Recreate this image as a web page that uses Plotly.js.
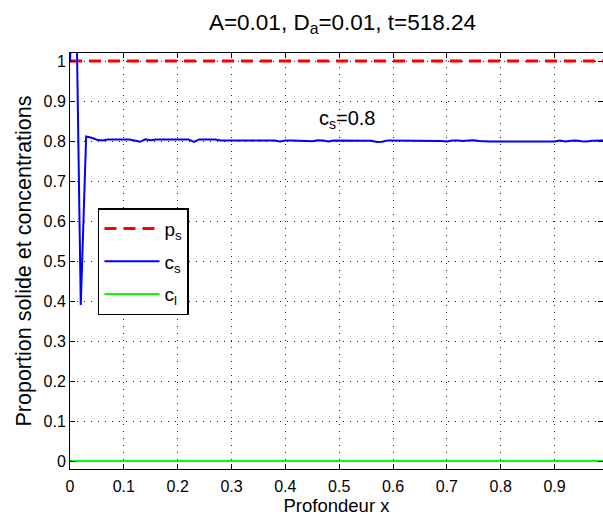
<!DOCTYPE html>
<html>
<head>
<meta charset="utf-8">
<script src="https://cdn.plot.ly/plotly-3.0.1.min.js"></script>
<style>html,body{margin:0;padding:0;background:#fff;}#chart{width:603px;height:516px;}</style>
</head>
<body>
<div id="chart"></div>
<script>
// x grid: 100 points, 0 to 0.99
const depthX = [
  0.00,0.01,0.02,0.03,0.04,0.05,0.06,0.07,0.08,0.09,
  0.10,0.11,0.12,0.13,0.14,0.15,0.16,0.17,0.18,0.19,
  0.20,0.21,0.22,0.23,0.24,0.25,0.26,0.27,0.28,0.29,
  0.30,0.31,0.32,0.33,0.34,0.35,0.36,0.37,0.38,0.39,
  0.40,0.41,0.42,0.43,0.44,0.45,0.46,0.47,0.48,0.49,
  0.50,0.51,0.52,0.53,0.54,0.55,0.56,0.57,0.58,0.59,
  0.60,0.61,0.62,0.63,0.64,0.65,0.66,0.67,0.68,0.69,
  0.70,0.71,0.72,0.73,0.74,0.75,0.76,0.77,0.78,0.79,
  0.80,0.81,0.82,0.83,0.84,0.85,0.86,0.87,0.88,0.89,
  0.90,0.91,0.92,0.93,0.94,0.95,0.96,0.97,0.98,0.99
];
const psValues = [
  1,1,1,1,1,1,1,1,1,1, 1,1,1,1,1,1,1,1,1,1,
  1,1,1,1,1,1,1,1,1,1, 1,1,1,1,1,1,1,1,1,1,
  1,1,1,1,1,1,1,1,1,1, 1,1,1,1,1,1,1,1,1,1,
  1,1,1,1,1,1,1,1,1,1, 1,1,1,1,1,1,1,1,1,1,
  1,1,1,1,1,1,1,1,1,1, 1,1,1,1,1,1,1,1,1,1
];
const csValues = [
  1.0, 1.3, 0.39, 0.811, 0.808, 0.803, 0.801, 0.804, 0.804, 0.804,
  0.804, 0.804, 0.801, 0.798, 0.804, 0.802, 0.804, 0.804, 0.804, 0.8035,
  0.803, 0.8035, 0.804, 0.798, 0.804, 0.804, 0.804, 0.8035, 0.801, 0.801,
  0.801, 0.801, 0.801, 0.801, 0.8015, 0.8015, 0.8015, 0.8015, 0.8015, 0.799,
  0.8015, 0.8015, 0.8015, 0.8015, 0.800, 0.7995, 0.802, 0.801, 0.799, 0.8015,
  0.8015, 0.8015, 0.8015, 0.8015, 0.8015, 0.8015, 0.8005, 0.7975, 0.798, 0.8015,
  0.8015, 0.8015, 0.8015, 0.8015, 0.8015, 0.8015, 0.8015, 0.8015, 0.801, 0.800,
  0.7985, 0.8015, 0.801, 0.800, 0.801, 0.802, 0.800, 0.7985, 0.7985, 0.7985,
  0.7985, 0.7985, 0.7985, 0.7985, 0.7985, 0.7985, 0.7985, 0.7985, 0.7985, 0.7985,
  0.799, 0.801, 0.799, 0.8005, 0.801, 0.7995, 0.7985, 0.8005, 0.801, 0.801
];
const clValues = [
  0,0,0,0,0,0,0,0,0,0, 0,0,0,0,0,0,0,0,0,0,
  0,0,0,0,0,0,0,0,0,0, 0,0,0,0,0,0,0,0,0,0,
  0,0,0,0,0,0,0,0,0,0, 0,0,0,0,0,0,0,0,0,0,
  0,0,0,0,0,0,0,0,0,0, 0,0,0,0,0,0,0,0,0,0,
  0,0,0,0,0,0,0,0,0,0, 0,0,0,0,0,0,0,0,0,0
];
const seriesNames = ['p<sub>s</sub>', 'c<sub>s</sub>', 'c<sub>l</sub>'];
const xTickVals = [0,0.1,0.2,0.3,0.4,0.5,0.6,0.7,0.8,0.9];
const xTickText = ['0','0.1','0.2','0.3','0.4','0.5','0.6','0.7','0.8','0.9'];
const yTickVals = [0,0.1,0.2,0.3,0.4,0.5,0.6,0.7,0.8,0.9,1];
const yTickText = ['0','0.1','0.2','0.3','0.4','0.5','0.6','0.7','0.8','0.9','1'];
const titleText = 'A=0.01, D<sub>a</sub>=0.01, t=518.24';
const annoText = 'c<sub>s</sub>=0.8';
const annoX = 0.515, annoY = 0.855;

const FONT = 'Liberation Sans, Arial, Helvetica, sans-serif';

const traces = [
  {x: depthX, y: psValues, name: seriesNames[0], mode: 'lines', legendgroup: 'a',
   line: {color: '#ff0000', width: 3, dash: '12px,7px'}},
  {x: depthX, y: csValues, name: seriesNames[1], mode: 'lines', legendgroup: 'b',
   line: {color: '#0000ff', width: 2}},
  {x: depthX, y: clValues, name: seriesNames[2], mode: 'lines', legendgroup: 'c',
   line: {color: '#00ff00', width: 2}}
];

const axisCommon = {
  showline: true, linecolor: '#000', linewidth: 1, mirror: 'ticks',
  ticks: 'inside', ticklen: 5, tickcolor: '#000', tickwidth: 1,
  showgrid: true, gridcolor: '#222', gridwidth: 1, griddash: '1px,6px',
  zeroline: false, tickfont: {family: FONT, size: 16, color: '#000'}
};

const layout = {
  width: 603, height: 516,
  margin: {l: 70, r: 0, t: 53, b: 47, pad: 0},
  paper_bgcolor: '#fff', plot_bgcolor: '#fff',
  font: {family: FONT, color: '#000'},
  title: {text: titleText, font: {family: FONT, size: 22.5, color: '#000'},
          x: 0.568, xref: 'container', xanchor: 'center', y: 0.958, yref: 'container', yanchor: 'middle'},
  xaxis: Object.assign({}, axisCommon, {
    range: [0, 0.99], tickvals: xTickVals, ticktext: xTickText, ticklabelstandoff: 3,
    title: {text: 'Profondeur x', font: {family: FONT, size: 18.5, color: '#000'}, standoff: 4}
  }),
  yaxis: Object.assign({}, axisCommon, {
    range: [-0.02, 1.02], tickvals: yTickVals, ticktext: yTickText,
    title: {text: 'Proportion solide et concentrations', font: {family: FONT, size: 21.5, color: '#000'}, standoff: 6}
  }),
  showlegend: true,
  legend: {
    x: 0.0525, y: 0.627, xanchor: 'left', yanchor: 'top',
    bgcolor: '#fff', bordercolor: '#000', borderwidth: 1.5,
    font: {family: FONT, size: 19, color: '#000'},
    traceorder: 'grouped', tracegroupgap: 5, itemwidth: 55
  },
  annotations: [{
    x: annoX, y: annoY, xref: 'x', yref: 'y', text: annoText, showarrow: false,
    font: {family: FONT, size: 20, color: '#000'}, xanchor: 'center', yanchor: 'middle'
  }]
};

Plotly.newPlot('chart', traces, layout, {displayModeBar: false, staticPlot: true});
</script>
</body>
</html>
